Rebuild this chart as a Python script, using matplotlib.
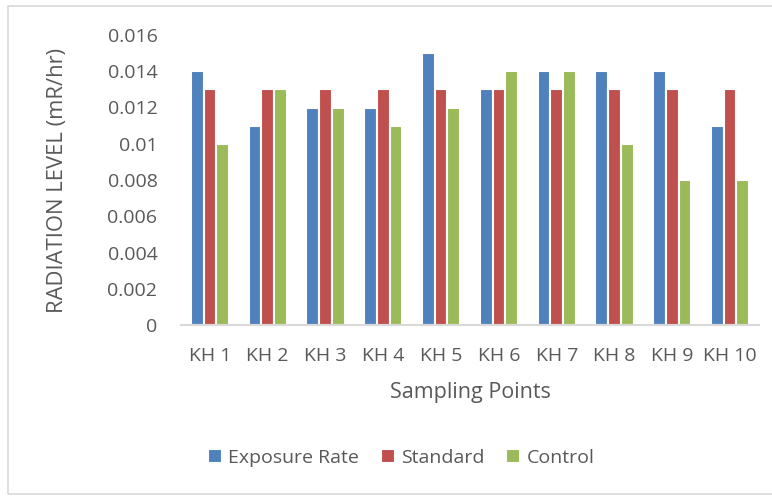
import matplotlib
matplotlib.use("Agg")
import matplotlib.pyplot as plt
import numpy as np
from matplotlib.patches import Rectangle

categories = ["KH 1", "KH 2", "KH 3", "KH 4", "KH 5", "KH 6", "KH 7", "KH 8", "KH 9", "KH 10"]
exposure = [0.014, 0.011, 0.012, 0.012, 0.015, 0.013, 0.014, 0.014, 0.014, 0.011]
standard = [0.013] * 10
control = [0.010, 0.013, 0.012, 0.011, 0.012, 0.014, 0.014, 0.010, 0.008, 0.008]
yticks = [0, 0.002, 0.004, 0.006, 0.008, 0.01, 0.012, 0.014, 0.016]
ytick_labels = ["0", "0.002", "0.004", "0.006", "0.008", "0.01", "0.012", "0.014", "0.016"]

plt.rcParams['font.family'] = ['Open Sans', 'DejaVu Sans']
text_color = "#595959"

W, H = 772, 496
fig = plt.figure(figsize=(W / 100, H / 100), dpi=100)
ax = fig.add_axes([181 / W, 1 - 325 / H, 578 / W, 290 / H])

x = np.arange(len(categories))
bw = 0.22
colors = ["#4F81BD", "#C0504D", "#9BBB59"]
names = ["Exposure Rate", "Standard", "Control"]
for i, (vals, c, n) in enumerate(zip([exposure, standard, control], colors, names)):
    ax.bar(x + (i - 1) * bw, vals, bw, color=c, edgecolor="white", linewidth=1.5, label=n)

ax.set_xlim(-0.5, len(categories) - 0.5)
ax.set_ylim(0, 0.016)
ax.set_yticks(yticks)
ax.set_yticklabels(ytick_labels)
ax.set_xticks(x)
ax.set_xticklabels(categories)
for s in ["top", "right", "left"]:
    ax.spines[s].set_visible(False)
ax.spines["bottom"].set_color("#D9D9D9")
ax.spines["bottom"].set_linewidth(1.5)
ax.tick_params(axis="both", length=0, labelsize=14, colors=text_color)
ax.tick_params(axis="y", pad=17)
ax.tick_params(axis="x", pad=16)
ax.set_xlabel("Sampling Points", fontsize=15.5, color=text_color, labelpad=12)
ax.set_ylabel("RADIATION LEVEL (mR/hr)", fontsize=15.8, color=text_color, labelpad=28)

leg = fig.legend(loc="center", bbox_to_anchor=(401 / W, 1 - 458 / H), ncol=3, frameon=False,
                 fontsize=14, handlelength=0.75, handleheight=0.75, handletextpad=0.3, columnspacing=1.1)
for t in leg.get_texts():
    t.set_color(text_color)

fig.patches.append(Rectangle((7.5 / W, 1 - 494 / H), 1.0, (494 - 5.5) / H, transform=fig.transFigure,
                             fill=False, edgecolor="#D9D9D9", linewidth=1.2))

fig.savefig("out.png", dpi=100)
